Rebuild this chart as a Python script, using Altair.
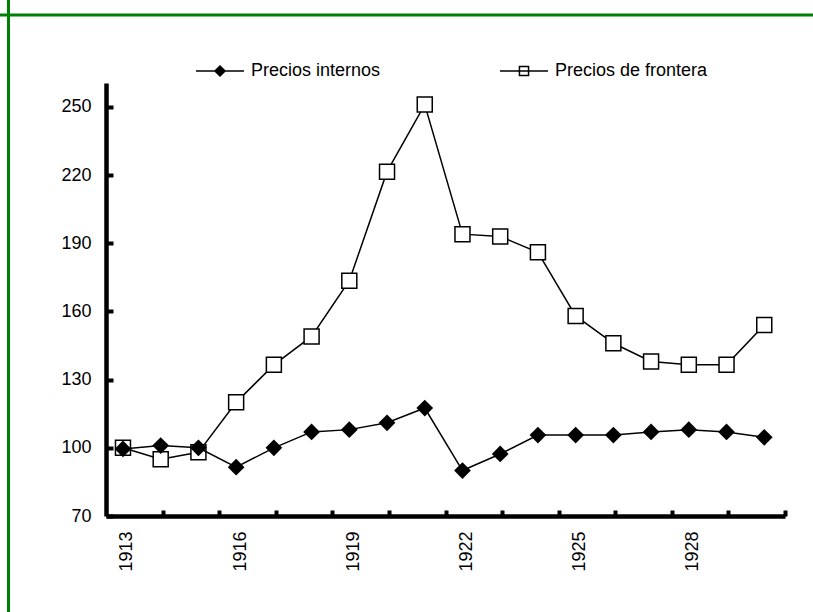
import altair as alt
import pandas as pd

# ---- data ----
years = list(range(1913, 1931))
internos = [99.5, 101, 100, 91.5, 100, 107, 108, 111, 117.5, 90, 97.3, 105.6,
            105.6, 105.6, 107, 108, 107, 104.6]
frontera = [100, 95, 98, 120, 136.5, 149, 173.5, 221.5, 251, 194, 193, 186,
            158, 146, 138, 136.5, 136.5, 154]
series_names = ["Precios internos", "Precios de frontera"]
y_ticks = [70, 100, 130, 160, 190, 220, 250]
x_labels = [1913, 1916, 1919, 1922, 1925, 1928]

df = pd.DataFrame({
    "year": years * 2,
    "value": internos + frontera,
    "series": [series_names[0]] * len(years) + [series_names[1]] * len(years),
})

W, H = 679, 433
FONT = "Liberation Sans"
x_min, x_max = 1912.55, 1930.55
tick_pos = [round(x_min + 1.5 * k, 2) for k in range(1, 13)]

x_scale = alt.Scale(domain=[x_min, x_max], nice=False, zero=False)
y_scale = alt.Scale(domain=[70, 260.5], nice=False, zero=False)

x_axis = alt.Axis(
    values=tick_pos + x_labels,
    labelExpr="datum.value % 1 == 0 ? format(datum.value, 'd') : ''",
    labelAngle=270, labelFontSize=18, labelFont=FONT, labelColor="black",
    labelPadding=15, labelOffset=4, labelOverlap=False, labelFlush=False, ticks=False,
    domainColor="black", domainWidth=4.5,
    grid=True, gridColor="black", gridWidth=4, gridDash=[0, H - 6, 6, 5000],
    gridOpacity={"condition": {"test": "datum.value % 1 == 0", "value": 0}, "value": 1},
    title=None,
)
y_axis = alt.Axis(
    values=y_ticks, labelFontSize=18, labelFont=FONT, labelColor="black",
    labelPadding=15, labelFlush=False, labelOverlap=False, ticks=False,
    domainColor="black", domainWidth=4.5,
    grid=True, gridColor="black", gridWidth=4, gridDash=[7, 5000],
    title=None,
)

base = alt.Chart(df).encode(
    x=alt.X("year:Q", scale=x_scale, axis=x_axis),
    y=alt.Y("value:Q", scale=y_scale, axis=y_axis),
)
front = base.transform_filter(alt.datum.series == series_names[1])
intern = base.transform_filter(alt.datum.series == series_names[0])

front_line = front.mark_line(color="black", strokeWidth=1.5)
front_pts = front.mark_point(shape="square", size=225, filled=True, fill="white",
                             stroke="black", strokeWidth=1.5, opacity=1)
intern_line = intern.mark_line(color="black", strokeWidth=1.5)
intern_pts = intern.mark_point(shape="diamond", size=280, filled=True,
                               color="black", opacity=1)

diamond_path = "M-1,0L1,0M0,-0.21L0.21,0L0,0.21L-0.21,0Z"
square_path = "M-1,0L1,0M-0.19,-0.19L0.19,-0.19L0.19,0.19L-0.19,0.19Z"

leg = alt.Legend(
    orient="none", legendX=89, legendY=-37, direction="horizontal", columns=2,
    columnPadding=116, title=None, padding=0,
    symbolSize=2304, symbolStrokeWidth=1.5,
    symbolOpacity=1, labelFont=FONT, labelFontSize=18, labelColor="black",
    labelOffset=6,
)
legend_layer = base.mark_point(opacity=0, filled=True, strokeWidth=1.5).encode(
    shape=alt.Shape("series:N", scale=alt.Scale(domain=series_names,
                                                range=[diamond_path, square_path]),
                    legend=leg),
    fill=alt.Fill("series:N", scale=alt.Scale(domain=series_names,
                                              range=["black", "white"]),
                  legend=leg),
    stroke=alt.Stroke("series:N", scale=alt.Scale(domain=series_names,
                                                  range=["black", "black"]),
                      legend=leg),
)

frame_df = pd.DataFrame({"k": [0]})
left_rule = alt.Chart(frame_df).mark_rule(color="#008000", strokeWidth=3).encode(
    x=alt.value(-97.5), y=alt.value(-100), y2=alt.value(700))
top_rule = alt.Chart(frame_df).mark_rule(color="#008000", strokeWidth=3).encode(
    y=alt.value(-68), x=alt.value(-120), x2=alt.value(900))

chart = alt.layer(
    left_rule, top_rule, front_line, front_pts, intern_line, intern_pts, legend_layer
).properties(
    width=W, height=H,
    autosize=alt.AutoSizeParams(type="none"),
    padding={"left": 106, "top": 83, "right": 28, "bottom": 96},
).configure_view(stroke=None)

chart.save("out.html", embed_options={"renderer": "svg", "actions": False})
